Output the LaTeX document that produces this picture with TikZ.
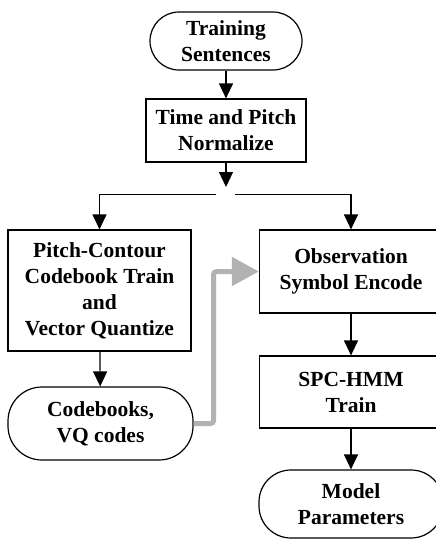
\documentclass[tikz,border=0pt]{standalone}
\usepackage{fontspec}
\setmainfont{Liberation Serif}
\usetikzlibrary{arrows.meta}
\begin{document}
\begin{tikzpicture}[
        x=1pt, y=-1pt,
        font=\bfseries\fontsize{21.5}{26}\selectfont,
        proc/.style={rectangle, draw=black, line width=1.2pt, align=center, inner sep=0pt},
        term/.style={rectangle, rounded corners=29pt, draw=black, line width=1.2pt, align=center, inner sep=0pt},
        arr/.style={line width=1.2pt, -{Triangle[length=15pt, width=14pt]}},
        feed/.style={line width=5pt, draw=black!30, rounded corners=3pt, -{Triangle[length=27pt, width=28pt]}}
    ]
    \useasboundingbox (0,0) rectangle (436,539);
    \clip (0,0) rectangle (436,539);
    % Eingang
    \node[term, minimum width=152pt, minimum height=58pt] (train) at (226,41) {Training\\Sentences};
    \node[proc, minimum width=160pt, minimum height=63pt] (norm) at (226,130.5) {Time and Pitch\\Normalize};
    \coordinate (split) at (226,194.5);
    % linker Zweig
    \node[proc, minimum width=183pt, minimum height=121pt] (pc) at (99.5,290.5) {Pitch-Contour\\Codebook Train\\and\\Vector Quantize};
    \node[term, minimum width=185pt, minimum height=73pt, rounded corners=34pt] (cb) at (100.5,423.5) {Codebooks,\\VQ codes};
    % rechter Zweig
    \node[proc, minimum width=183pt, minimum height=83pt] (obs) at (351,271.5) {Observation\\Symbol Encode};
    \node[proc, minimum width=183pt, minimum height=72pt] (spc) at (351,392) {SPC-HMM\\Train};
    \node[term, minimum width=184pt, minimum height=68pt, rounded corners=32pt] (model) at (351,504) {Model\\Parameters};
    % Verbindungen
    \draw[arr] (train) -- (norm);
    \draw[arr, shorten >=7.5pt] (norm) -- (split);
    \draw[arr] ([xshift=-10pt]split) -| (pc);
    \draw[arr] ([xshift=9pt]split) -| (obs);
    \draw[arr] (pc) -- (cb);
    \draw[arr] (obs) -- (spc);
    \draw[arr] (spc) -- (model);
    \draw[feed] (cb.east) -- ++(20,0) |- (obs.west);
\end{tikzpicture}
\end{document}
